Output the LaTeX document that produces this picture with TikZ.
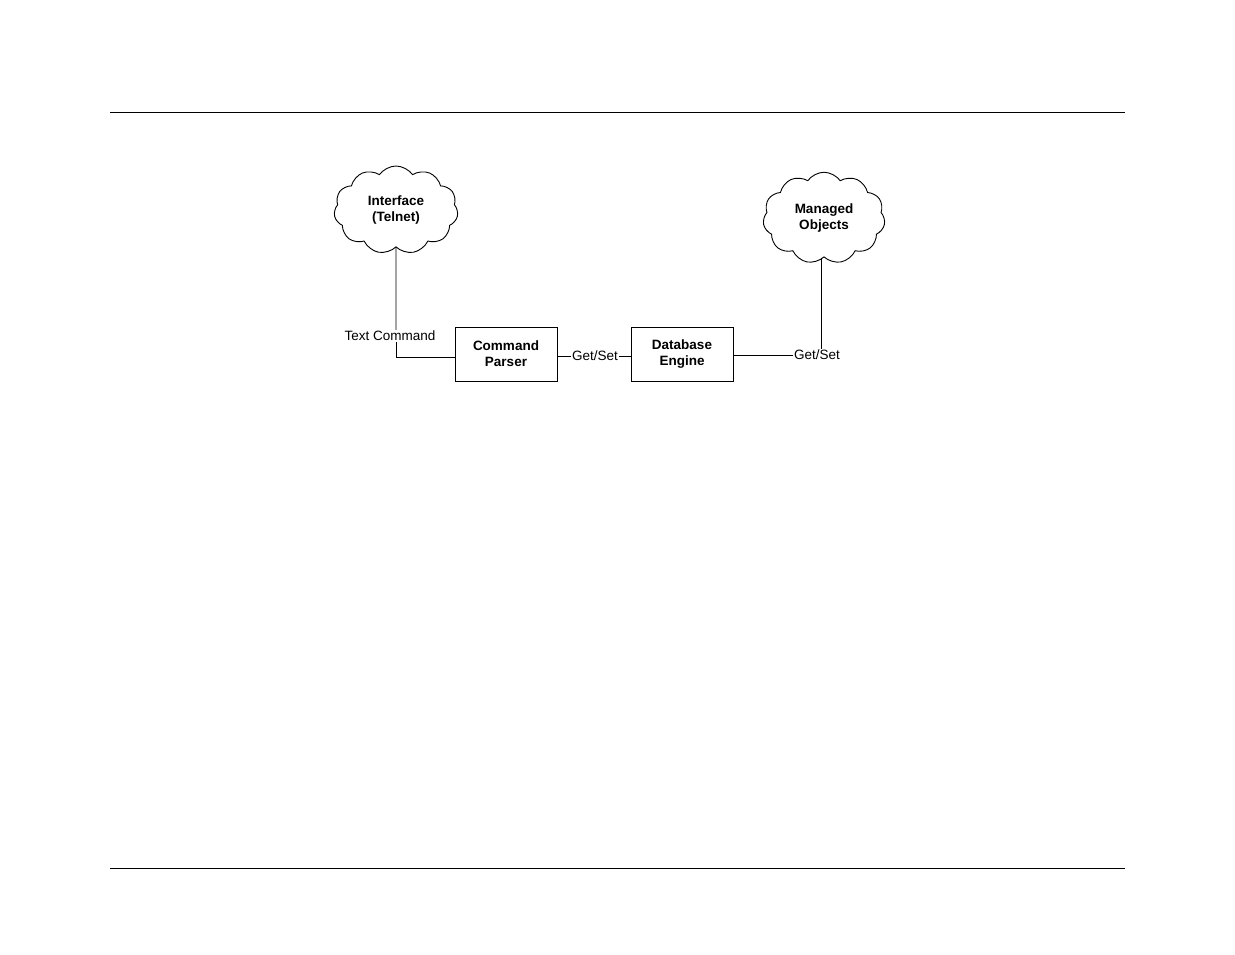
\documentclass[tikz,border=0pt]{standalone}
\usepackage{fontspec}
\setmainfont{Liberation Sans}
\usetikzlibrary{shapes.symbols}
\begin{document}
\begin{tikzpicture}[x=1pt,y=-1pt,
  cloudn/.style={cloud, cloud puffs=11, cloud puff arc=110, draw, line width=0.9pt, inner sep=0pt, font=\fontsize{13.5}{16}\selectfont\bfseries, align=center},
  boxn/.style={draw, line width=0.9pt, minimum width=102pt, minimum height=54pt, font=\fontsize{13.5}{16}\selectfont\bfseries, align=center},
  lbl/.style={font=\fontsize{13.5}{16}\selectfont, inner sep=1pt},
  wire/.style={line width=0.9pt}]
\useasboundingbox (0,0) rectangle (1235,954);
\coordinate (t1) at (110,112); \coordinate (t2) at (1125,112);
\coordinate (b1) at (110,868); \coordinate (b2) at (1125,868);
\draw[line width=0.8pt] (t1) -- (t2);
\draw[line width=0.8pt] (b1) -- (b2);
\node[cloudn, minimum width=124pt, minimum height=78pt] (c1) at (396,210) {Interface\\(Telnet)};
\node[cloudn, minimum width=122pt, minimum height=72pt] (c2) at (824,218) {Managed\\Objects};
\node[boxn] (p) at (506,354) {Command\\Parser};
\node[boxn] (d) at (682,354) {Database\\Engine};
\node[lbl] (tc) at (390,336) {Text Command};
\node[lbl] (g1) at (595,356) {Get/Set};
\node[lbl] (g2) at (817,355) {Get/Set};
\coordinate (k) at (396,357);
\draw[wire] (c1.south) -- (396,248 |- tc.north);
\draw[wire] (396,0 |- tc.south) -- (k) -- (k -| p.west);
\draw[wire] (p.east |- g1) -- (g1.west);
\draw[wire] (g1.east) -- (d.west |- g1);
\draw[wire] (d.east |- g2) -- (g2.west);
\draw[wire] (821,0 |- c2.south) -- (821,0 |- g2.north);
\end{tikzpicture}
\end{document}
